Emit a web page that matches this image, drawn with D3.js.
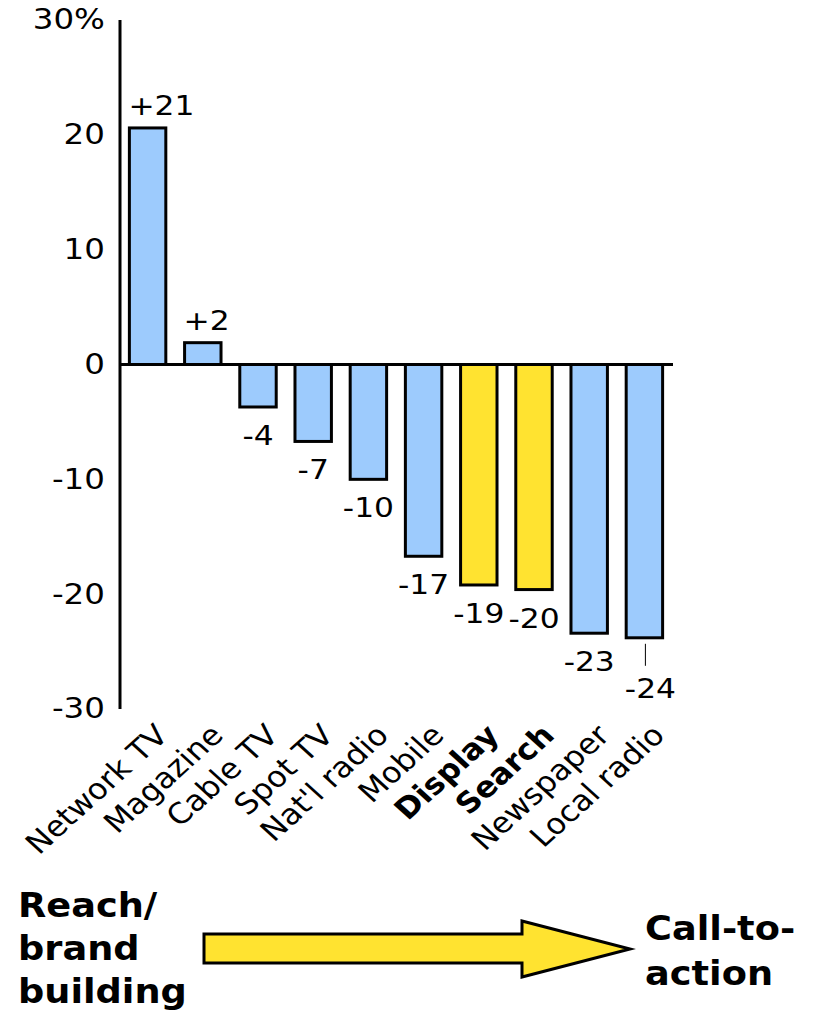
<!DOCTYPE html>
<html>
<head>
<meta charset="utf-8">
<script src="https://cdn.jsdelivr.net/npm/d3@7"></script>
<style>
  body { margin: 0; background: #fff; }
  svg text { font-family: "DejaVu Sans", Verdana, sans-serif; fill: #000; }
</style>
</head>
<body>
<div id="chart"></div>
<script>
var width = 815;
var height = 1014;

// data
var categories = ["Network TV", "Magazine", "Cable TV", "Spot TV", "Nat'l radio",
                  "Mobile", "Display", "Search", "Newspaper", "Local radio"];
var values = [20.6, 1.9, -3.7, -6.7, -10.0, -16.7, -19.2, -19.6, -23.4, -23.8];
var valueLabels = ["+21", "+2", "-4", "-7", "-10", "-17", "-19", "-20", "-23", "-24"];
var digital = ["Display", "Search"];
var yTicks = [30, 20, 10, 0, -10, -20, -30];

var blue = "#9dcbfd";
var yellow = "#ffe330";
var sx = 1.16; // text in the picture is a bit wider than tall

var data = categories.map((c, i) => ({name: c, value: values[i], label: valueLabels[i]}));

var svg = d3.select("#chart").append("svg")
    .attr("width", width)
    .attr("height", height);

var x = d3.scaleBand()
    .domain(categories)
    .range([120, 672])
    .paddingInner(0.34)
    .paddingOuter(0.17);

var y = d3.scaleLinear()
    .domain([-30, 30])
    .range([709, 20]);

// bars
svg.selectAll(".bar").data(data)
    .enter().append("rect")
    .attr("class", "bar")
    .attr("x", d => x(d.name))
    .attr("width", x.bandwidth())
    .attr("y", d => y(Math.max(0, d.value)))
    .attr("height", d => Math.abs(y(d.value) - y(0)))
    .attr("fill", d => digital.includes(d.name) ? yellow : blue)
    .attr("stroke", "#000")
    .attr("stroke-width", 3);

// value labels: above & left aligned for gains, centred below for losses
svg.selectAll(".vlabel").data(data)
    .enter().append("text")
    .attr("class", "vlabel")
    .attr("text-anchor", d => d.value >= 0 ? "start" : "middle")
    .style("font-size", "27px")
    .attr("transform", d => {
        var cx = x(d.name) + x.bandwidth() / 2;
        var yy;
        if (d.value >= 0) { cx = x(d.name) - 1; yy = y(d.value) - 13; }
        else if (d.name === "Local radio") { cx += 6; yy = y(d.value) + 60; }
        else yy = y(d.value) + 38;
        return `translate(${cx},${yy}) scale(${sx},1)`;
    })
    .text(d => d.label);

// leader line for the last label
var last = data[data.length - 1];
svg.append("line")
    .attr("x1", x(last.name) + x.bandwidth() / 2 + 1)
    .attr("x2", x(last.name) + x.bandwidth() / 2 + 1)
    .attr("y1", y(last.value) + 6)
    .attr("y2", y(last.value) + 28)
    .attr("stroke", "#000")
    .attr("stroke-width", 1);

// zero line
svg.append("line")
    .attr("x1", 120).attr("x2", 673)
    .attr("y1", y(0)).attr("y2", y(0))
    .attr("stroke", "#000")
    .attr("stroke-width", 3);

// y axis
var yAxis = svg.append("g")
    .attr("transform", "translate(120,0)")
    .call(d3.axisLeft(y)
        .tickValues(yTicks)
        .tickSize(0)
        .tickPadding(13)
        .tickFormat(d => d === 30 ? "30%" : d));
yAxis.select(".domain").remove();
yAxis.append("line")
    .attr("y1", y(30)).attr("y2", y(-30))
    .attr("stroke", "#000")
    .attr("stroke-width", 3);
yAxis.selectAll("text")
    .attr("fill", "#000")
    .style("font-family", "DejaVu Sans")
    .style("font-size", "28px")
    .attr("transform", `scale(${sx},1)`);

// category labels
svg.selectAll(".xlabel").data(data)
    .enter().append("text")
    .attr("class", "xlabel")
    .attr("text-anchor", "end")
    .style("font-size", "29px")
    .style("font-weight", d => digital.includes(d.name) ? "bold" : "normal")
    .attr("transform", d => `translate(${x(d.name) + x.bandwidth() / 2 + 22},737) scale(1.1,1) rotate(-45)`)
    .text(d => d.name);

// bottom: reach -> call-to-action arrow
svg.append("path")
    .attr("d", "M204,934 L522,934 L522,921 L630,949 L522,977 L522,963 L204,963 Z")
    .attr("fill", yellow)
    .attr("stroke", "#000")
    .attr("stroke-width", 3)
    .attr("stroke-linejoin", "miter");

var leftText = ["Reach/", "brand", "building"];
var rightText = ["Call-to-", "action"];

svg.selectAll(".ltext").data(leftText)
    .enter().append("text")
    .attr("class", "ltext")
    .style("font-size", "34px")
    .style("font-weight", "bold")
    .attr("transform", (d, i) => `translate(18,${917 + i * 43}) scale(1.08,1)`)
    .text(d => d);

svg.selectAll(".rtext").data(rightText)
    .enter().append("text")
    .attr("class", "rtext")
    .style("font-size", "34px")
    .style("font-weight", "bold")
    .attr("transform", (d, i) => `translate(645,${940 + i * 45}) scale(1.08,1)`)
    .text(d => d);
</script>
</body>
</html>
